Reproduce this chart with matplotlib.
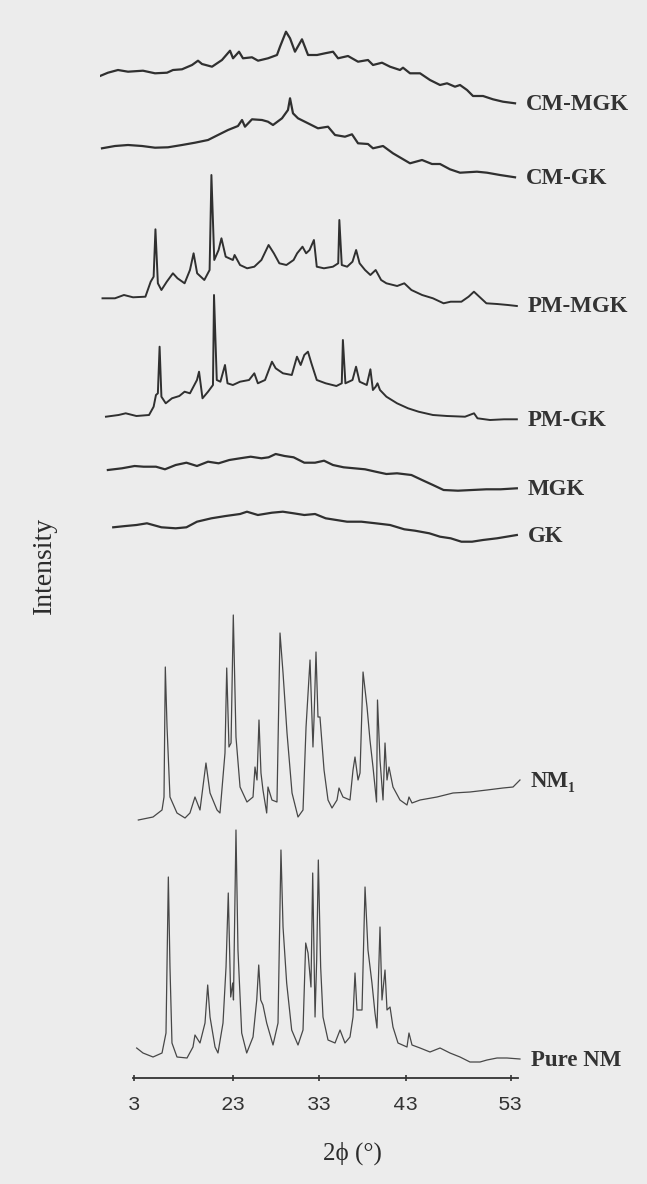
import matplotlib
matplotlib.use("Agg")
import matplotlib.pyplot as plt

# ---------------- data (2-theta in degrees, intensity in arbitrary units) ----------------
cm_mgk_x = [7.63, 8.55, 9.71, 10.87, 12.60, 13.99, 15.38, 16.07, 17.11, 18.27, 18.96, 19.42, 20.58, 21.73,
            22.66, 23.01, 23.70, 24.16, 25.20, 25.90, 27.05, 28.09, 28.44, 29.13, 29.60, 30.17, 30.98, 31.68,
            32.72, 33.64, 34.57, 35.15, 36.30, 37.46, 38.61, 39.19, 40.23, 41.16, 42.31, 42.66, 43.47, 44.63,
            45.78, 46.94, 47.75, 48.67, 49.25, 50.06, 50.75, 51.91, 53.06, 54.22, 55.61]
cm_mgk_y = [28, 31.3, 34, 32.3, 33.3, 30.7, 31.3, 34, 34.7, 39, 43.3, 40, 37.3, 44,
            53.3, 45.7, 52.3, 45.7, 46.7, 43.3, 45.7, 49, 57.3, 72.3, 65.7, 52.3, 64.7, 49,
            49, 50.7, 52.3, 45.7, 48, 42.3, 44, 39, 41.3, 37.3, 34, 36.3, 30.7, 30.7,
            24, 19, 20.7, 17.3, 19, 14, 8, 8, 4.7, 2.3, 0.7]

cm_gk_x = [7.86, 9.36, 10.87, 12.49, 13.99, 15.49, 17.11, 18.61, 20.12, 21.27, 22.43, 23.58, 24.05, 24.39,
           25.20, 26.36, 27.05, 27.63, 28.67, 29.36, 29.60, 29.94, 30.52, 31.68, 32.83, 33.99, 34.80, 35.95,
           36.76, 37.46, 38.61, 39.19, 40.35, 41.50, 43.47, 44.86, 46.01, 46.94, 48.09, 49.25, 51.21, 52.37,
           53.87, 55.61]
cm_gk_y = [28.7, 31, 32, 31, 29.3, 29.7, 32, 34.3, 37, 42, 47, 51, 57, 50.3,
           57.7, 57, 55.3, 52, 58.7, 67, 78.7, 63.7, 58.7, 53.7, 48.7, 50.3, 42, 40.3,
           42.7, 33.7, 33, 28.7, 31, 23.7, 13.7, 17, 13, 13, 7.7, 4.3, 5.3, 4.3,
           2, -0.3]

pm_mgk_x = [7.92, 9.36, 10.40, 11.45, 12.88, 13.49, 13.83, 14.04, 14.32, 14.73, 15.35, 16.06, 16.59, 17.41,
            18.03, 18.45, 18.86, 19.69, 20.30, 20.51, 20.84, 21.34, 21.67, 22.16, 22.99, 23.19, 23.82, 24.64,
            25.47, 26.29, 27.12, 27.73, 28.36, 29.18, 30.01, 30.42, 31.04, 31.46, 31.86, 32.36, 32.69, 33.52,
            34.56, 35.17, 35.30, 35.58, 36.20, 36.82, 37.24, 37.64, 38.27, 38.89, 39.50, 40.13, 40.74, 41.98,
            42.81, 43.63, 44.87, 46.12, 47.35, 48.17, 49.41, 50.24, 50.86, 51.48, 52.30, 53.54, 54.79, 55.82]
pm_mgk_y = [7.7, 7.7, 11, 8.7, 9.3, 24.3, 29.3, 76.7, 22.7, 16, 24.3, 32.7, 27.7, 22.7,
            36, 52.7, 32.7, 26, 36, 131, 46, 56, 67.7, 49.3, 46, 51, 41, 37.7,
            39.3, 46, 61, 52.7, 42.7, 41, 46, 52.7, 59.3, 52.7, 56, 66, 39.3, 37.7,
            39.3, 42.7, 86, 41, 39.3, 44.3, 56, 42.7, 36, 31, 36, 26, 22.7, 20,
            22.7, 16, 11, 7.7, 2.7, 4.3, 4.3, 9.3, 14.3, 9.3, 2.7, 2, 1, 0]

pm_gk_x = [8.32, 9.78, 10.60, 11.84, 13.30, 13.83, 14.10, 14.32, 14.52, 14.73, 15.23, 15.95, 16.80, 17.41,
           18.03, 18.84, 19.08, 19.48, 20.12, 20.69, 20.81, 21.13, 21.55, 22.08, 22.37, 22.99, 23.82, 24.86,
           25.47, 25.88, 26.71, 27.51, 27.94, 28.78, 29.80, 30.40, 30.83, 31.25, 31.67, 32.07, 32.69, 33.72,
           34.96, 35.58, 35.71, 36.00, 36.82, 37.23, 37.64, 38.47, 38.89, 39.18, 39.50, 39.71, 40.00, 40.74,
           41.97, 43.24, 44.46, 46.12, 47.75, 49.83, 50.87, 51.27, 52.72, 54.34, 55.82]
pm_gk_y = [3.3, 5, 6.7, 4, 5, 13.3, 25, 26.7, 73.3, 23.3, 16.7, 21.7, 24, 28.3,
           26.7, 40, 48.3, 21.7, 28.3, 35, 125, 40, 38.3, 55, 36.7, 35, 38.3, 40,
           46.7, 36.7, 40, 58.3, 51.7, 46.7, 45, 63.3, 55, 65, 68.3, 56.7, 40, 36.7,
           34, 36.7, 80, 36.7, 40, 53.3, 38.3, 35, 50.7, 30, 33.3, 36.7, 30, 23.3,
           16.7, 11.7, 8.3, 5, 4, 3.3, 6.7, 1.7, 0, 0.7, 0.7]

mgk_x = [8.54, 10.17, 11.63, 12.67, 14.10, 15.14, 16.38, 17.62, 18.84, 20.12, 21.34, 22.58, 23.82, 25.05,
         26.29, 27.12, 27.94, 28.97, 30.01, 31.25, 32.49, 33.53, 34.56, 35.79, 37.03, 38.27, 39.50, 40.74,
         41.97, 43.63, 44.86, 46.12, 47.35, 49.01, 50.64, 52.30, 53.95, 55.82]
mgk_y = [20, 21.7, 24, 23.3, 23.3, 20.7, 25, 27.3, 24, 28.3, 26.7, 30, 31.7, 33.3,
         31.7, 32.7, 36, 34, 32.7, 27.3, 27.3, 29.3, 25, 22.7, 21.7, 20.7, 18.3, 16,
         16.7, 15, 10, 5, 0, -0.7, 0, 0.7, 0.7, 1.7]

gk_x = [9.16, 10.60, 11.84, 13.06, 14.73, 16.38, 17.62, 18.84, 20.51, 22.16, 23.82, 24.62, 25.88, 27.51,
        28.77, 30.01, 31.25, 32.49, 33.72, 34.96, 36.19, 37.85, 39.50, 41.16, 42.81, 44.05, 45.70, 46.94,
        48.17, 49.41, 50.64, 51.90, 53.53, 55.82]
gk_y = [12.7, 14, 15, 16.7, 12.7, 11.7, 12.7, 18.3, 21.7, 24, 26, 28.3, 25, 27.3,
        28.3, 26.7, 25, 26, 21.7, 20, 18.3, 18.3, 16.7, 15, 10.7, 9.3, 6.7, 3.3,
        1.7, -1.7, -1.7, 0, 1.7, 5]

nm1_x = [12.06, 13.76, 14.80, 15.03, 15.18, 15.38, 15.72, 16.53, 17.46, 18.03, 18.61, 19.19, 19.88, 20.35,
         21.16, 21.50, 22.08, 22.28, 22.54, 22.78, 23.04, 23.35, 23.82, 24.62, 25.32, 25.55, 25.78, 26.01,
         26.24, 26.47, 26.90, 27.05, 27.51, 28.09, 28.44, 28.79, 29.25, 29.83, 30.52, 31.10, 31.45, 31.91,
         32.25, 32.37, 32.60, 32.83, 33.06, 33.53, 33.99, 34.45, 35.03, 35.26, 35.72, 36.53, 36.88, 37.11,
         37.46, 37.69, 38.04, 38.50, 38.84, 39.19, 39.60, 39.71, 40.00, 40.35, 40.58, 40.81, 41.04, 41.50,
         42.31, 43.12, 43.35, 43.70, 44.63, 46.59, 48.44, 50.40, 52.37, 54.22, 55.38, 56.18]
nm1_y = [0, 3, 10, 23, 153, 93, 23, 7, 2, 7, 23, 10, 57, 27,
         10, 7, 67, 152, 73, 77, 205, 83, 33, 18, 23, 53, 40, 100,
         47, 30, 7, 33, 20, 18, 187, 147, 87, 27, 3, 10, 93, 160,
         73, 100, 168, 103, 103, 50, 20, 12, 20, 32, 23, 20, 50, 63,
         40, 47, 148, 113, 80, 53, 18, 120, 60, 20, 77, 40, 53, 33,
         20, 15, 23, 17, 20, 23, 27, 28, 30, 32, 33, 40]

pure_x = [11.87, 12.60, 13.76, 14.80, 15.26, 15.53, 15.72, 15.95, 16.53, 17.69, 18.38, 18.61, 19.19, 19.77,
          20.08, 20.35, 20.93, 21.27, 21.85, 22.20, 22.46, 22.74, 22.97, 23.06, 23.35, 23.58, 24.01, 24.59,
          25.32, 25.75, 25.98, 26.21, 26.47, 26.90, 27.63, 28.21, 28.55, 28.79, 29.21, 29.79, 30.52, 31.10,
          31.41, 31.68, 32.02, 32.22, 32.49, 32.68, 32.87, 33.14, 33.41, 33.99, 34.80, 35.38, 35.95, 36.53,
          36.88, 37.11, 37.34, 37.92, 38.04, 38.27, 38.61, 39.07, 39.42, 39.65, 40.00, 40.23, 40.58, 40.81,
          41.16, 41.50, 42.08, 43.12, 43.35, 43.70, 44.63, 45.78, 46.94, 48.09, 49.25, 50.40, 51.56, 52.37,
          53.53, 54.68, 56.18]
pure_y = [12, 7, 3, 7, 27, 183, 93, 17, 3, 2, 13, 25, 17, 37,
          75, 43, 13, 7, 37, 93, 167, 63, 77, 60, 230, 110, 27, 7,
          23, 60, 95, 60, 55, 37, 15, 37, 210, 133, 77, 30, 15, 30,
          117, 107, 73, 187, 43, 100, 200, 93, 43, 20, 17, 30, 17, 23,
          43, 87, 50, 50, 93, 173, 110, 77, 47, 32, 133, 60, 90, 50,
          53, 33, 17, 13, 27, 15, 12, 8, 12, 7, 3, -2, -2, 0,
          2, 2, 1]

sample_names = ["CM-MGK", "CM-GK", "PM-MGK", "PM-GK", "MGK", "GK", "NM\u2081", "Pure NM"]
sample_offsets = [974, 901, 772, 658, 588, 538, 258, 18]

tick_positions = [11.6, 23, 33, 43, 55.1]
tick_labels = ["3", "23", "33", "43", "53"]

# ---------------- figure ----------------
W, H = 647, 1184
fig = plt.figure(figsize=(W / 100, H / 100), dpi=100)
bg = "#ececec"
fig.patch.set_facecolor(bg)

ax_left, ax_right = 100, 530          # px
ax_bottom, ax_top = 1078, 20          # px (from top)
ax = fig.add_axes([ax_left / W, (H - ax_bottom) / H, (ax_right - ax_left) / W, (ax_bottom - ax_top) / H])
ax.patch.set_alpha(0)

xs = [cm_mgk_x, cm_gk_x, pm_mgk_x, pm_gk_x, mgk_x, gk_x, nm1_x, pure_x]
ys = [cm_mgk_y, cm_gk_y, pm_mgk_y, pm_gk_y, mgk_y, gk_y, nm1_y, pure_y]
widths = [1.6, 1.6, 1.4, 1.4, 1.6, 1.6, 0.9, 0.9]
colors = ["#303030"] * 6 + ["#474747", "#474747"]

serif = ["Liberation Serif", "DejaVu Serif"]
for x, y, off, name, lw, c in zip(xs, ys, sample_offsets, sample_names, widths, colors):
    yy = [v + off for v in y]
    ax.plot(x, yy, color=c, lw=lw, solid_joinstyle="round")
    ax.annotate(name, xy=(x[-1], yy[-1]), xytext=(11, -1), textcoords="offset pixels",
                ha="left", va="center", fontsize=16.5, fontweight="bold", family=serif, color="#333333")

ax.set_xlim((ax_left - 34) / 8.65, (ax_right - 34) / 8.65)
ax.set_ylim(0, ax_bottom - ax_top)

for s in ["left", "right", "top"]:
    ax.spines[s].set_visible(False)
ax.spines["bottom"].set_bounds(11.45, 55.95)
ax.spines["bottom"].set_linewidth(1.3)
ax.spines["bottom"].set_color("#333333")
ax.set_yticks([])
ax.set_xticks(tick_positions)
ax.set_xticklabels(tick_labels, family=["Liberation Mono", "DejaVu Sans Mono"], fontsize=15, color="#333333")
ax.tick_params(axis="x", direction="inout", length=5, width=1.2, color="#333333", pad=10)

ax.text((352 - ax_left) / (ax_right - ax_left), (ax_bottom - 1153) / (ax_bottom - ax_top), "2\u03d5 (\u00b0)",
        transform=ax.transAxes, ha="center", va="center", fontsize=18, family=serif, color="#2b2b2b")
ax.text((44 - ax_left) / (ax_right - ax_left), (ax_bottom - 565) / (ax_bottom - ax_top), "Intensity",
        transform=ax.transAxes, ha="center", va="center", rotation=90, fontsize=20, family=serif, color="#2b2b2b")

fig.savefig("out.png", dpi=100, facecolor=bg)
